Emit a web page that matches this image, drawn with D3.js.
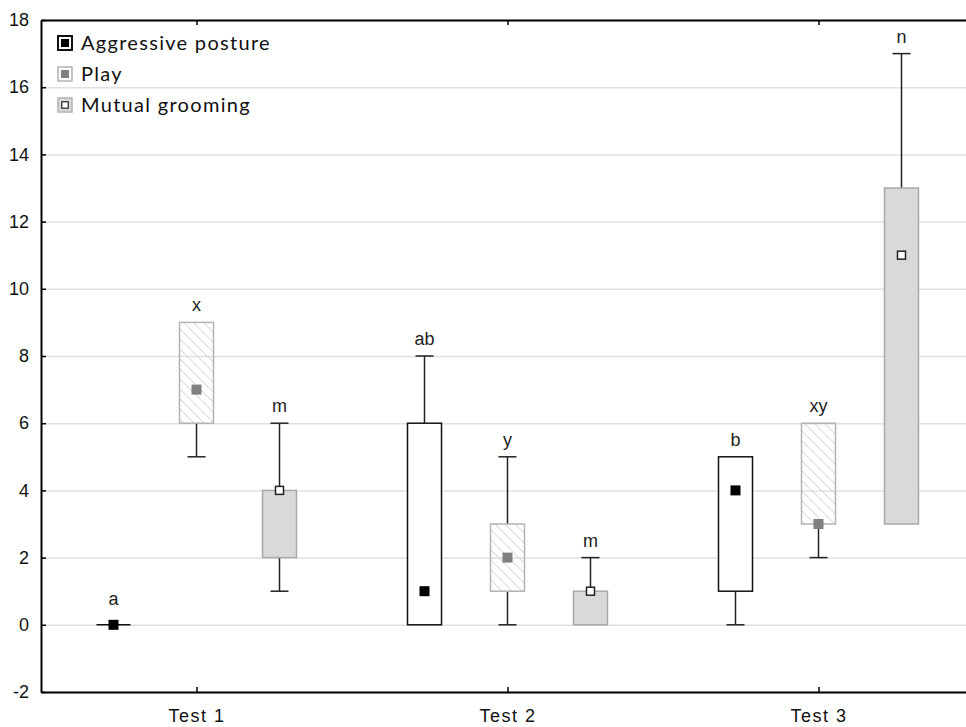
<!DOCTYPE html>
<html>
<head>
<meta charset="utf-8">
<script src="https://cdn.jsdelivr.net/npm/d3@7"></script>
<style>
  body { margin: 0; background: #fff; }
  svg { display: block; }
</style>
</head>
<body>
<div id="chart"></div>
<script>
// categories and series
const tests = ['Test 1', 'Test 2', 'Test 3'];
const seriesNames = ['Aggressive posture', 'Play', 'Mutual grooming'];
const yTicks = [-2, 0, 2, 4, 6, 8, 10, 12, 14, 16, 18];

// per test: [whisker min, box low, median, box high, whisker max]
const aggressiveStats = [[0, 0, 0, 0, 0], [0, 0, 1, 6, 8], [0, 1, 4, 5, 5]];
const playStats = [[5, 6, 7, 9, 9], [0, 1, 2, 3, 5], [2, 3, 3, 6, 6]];
const groomingStats = [[1, 2, 4, 4, 6], [0, 0, 1, 1, 2], [3, 3, 11, 13, 17]];

// significance letters
const aggressiveLetters = ['a', 'ab', 'b'];
const playLetters = ['x', 'y', 'xy'];
const groomingLetters = ['m', 'm', 'n'];

const width = 966, height = 727;
const margin = { top: 20, left: 41, bottom: 35, right: -8 };
const innerwidth = width - margin.left - margin.right;
const innerheight = height - margin.top - margin.bottom;

const svg = d3.select('#chart').append('svg')
  .attr('width', width).attr('height', height);

const defs = svg.append('defs');
defs.append('pattern')
  .attr('id', 'hatch')
  .attr('patternUnits', 'userSpaceOnUse')
  .attr('width', 10).attr('height', 10)
  .append('path')
  .attr('d', 'M0,0L10,10M-5,5L5,15M5,-5L15,5')
  .attr('stroke', '#cfcfcf')
  .attr('stroke-width', 1);

const g = svg.append('g').attr('transform', `translate(${margin.left},${margin.top})`);

const xScale = d3.scalePoint().domain(tests).range([0, innerwidth]).padding(0.5);
const yScale = d3.scaleLinear().domain([-2, 18]).range([innerheight, 0]);
const offset = d3.scalePoint().domain(seriesNames).range([-83, 83]);

// grid
g.append('g').attr('class', 'grid')
  .call(d3.axisLeft(yScale).tickValues(yTicks).tickSize(-innerwidth).tickFormat(''))
  .call(s => s.select('.domain').remove())
  .call(s => s.selectAll('line').attr('stroke', '#e0e0e0').attr('stroke-width', 1.5));

const styles = [
  { stroke: '#111', fill: '#fff', mark: '#000', markStroke: 'none', size: 10 },
  { stroke: '#b3b3b3', fill: 'url(#hatch)', mark: '#808080', markStroke: 'none', size: 10 },
  { stroke: '#a8a8a8', fill: '#d9d9d9', mark: '#fff', markStroke: '#222', size: 8 }
];
const allStats = [aggressiveStats, playStats, groomingStats];
const allLetters = [aggressiveLetters, playLetters, groomingLetters];

const boxW = 34, capW = 18;

seriesNames.forEach((name, si) => {
  const st = styles[si];
  const grp = g.append('g').attr('class', 'series');
  allStats[si].forEach((d, ti) => {
    const cx = xScale(tests[ti]) + offset(name);
    const [mn, lo, med, hi, mx] = d;
    // whiskers, only where they reach past the box
    if (mx > hi) drawWhisker(grp, cx, mx, hi);
    if (mn < lo) drawWhisker(grp, cx, mn, lo);
    // box
    if (hi > lo) {
      grp.append('rect')
        .attr('x', cx - boxW / 2).attr('width', boxW)
        .attr('y', yScale(hi)).attr('height', yScale(lo) - yScale(hi))
        .attr('fill', st.fill).attr('stroke', st.stroke).attr('stroke-width', 1.5);
    } else {
      grp.append('line')
        .attr('x1', cx - boxW / 2).attr('x2', cx + boxW / 2)
        .attr('y1', yScale(hi)).attr('y2', yScale(hi))
        .attr('stroke', '#111').attr('stroke-width', 1.5);
    }
    // median marker
    grp.append('rect')
      .attr('x', cx - st.size / 2).attr('y', yScale(med) - st.size / 2)
      .attr('width', st.size).attr('height', st.size)
      .attr('fill', st.mark).attr('stroke', st.markStroke).attr('stroke-width', 1.5);
    // letter
    grp.append('text')
      .attr('x', cx).attr('y', yScale(mx) - (mx === hi && hi === lo ? 20 : 11))
      .attr('text-anchor', 'middle')
      .attr('font-family', 'Liberation Sans, Arial, sans-serif')
      .attr('font-size', 18).attr('fill', '#222')
      .text(allLetters[si][ti]);
  });
});

function drawWhisker(grp, cx, v, end) {
  grp.append('line')
    .attr('x1', cx).attr('x2', cx)
    .attr('y1', yScale(v)).attr('y2', yScale(end))
    .attr('stroke', '#222').attr('stroke-width', 1.5);
  grp.append('line')
    .attr('x1', cx - capW / 2).attr('x2', cx + capW / 2)
    .attr('y1', yScale(v)).attr('y2', yScale(v))
    .attr('stroke', '#222').attr('stroke-width', 1.5);
}

// axes
const yAxis = d3.axisLeft(yScale).tickValues(yTicks).tickSizeInner(-5).tickSizeOuter(0)
  .tickPadding(12).tickFormat(d => String(d));
g.append('g').attr('class', 'y-axis').call(yAxis);

const xAxis = d3.axisBottom(xScale).tickSizeInner(-5).tickSizeOuter(0).tickPadding(17);
g.append('g').attr('class', 'x-axis')
  .attr('transform', `translate(0,${innerheight})`).call(xAxis);

const xTop = d3.axisTop(xScale).tickSizeInner(-5).tickSizeOuter(0).tickFormat('');
g.append('g').attr('class', 'x-top').call(xTop);

g.selectAll('.y-axis, .x-axis, .x-top')
  .call(s => s.selectAll('.domain').attr('stroke', '#000').attr('stroke-width', 2))
  .call(s => s.selectAll('.tick line').attr('stroke', '#000').attr('stroke-width', 1.5))
  .call(s => s.selectAll('text')
    .attr('font-family', 'Liberation Sans, Arial, sans-serif')
    .attr('font-size', 18).attr('fill', '#111'));
g.selectAll('.x-axis text').attr('letter-spacing', 1.5);

// legend
const legend = svg.append('g').attr('transform', 'translate(58,36)');
seriesNames.forEach((name, i) => {
  const st = styles[i];
  const row = legend.append('g').attr('transform', `translate(0,${i * 31})`);
  row.append('rect')
    .attr('x', 0).attr('y', 0).attr('width', 14).attr('height', 14)
    .attr('fill', i === 2 ? '#d9d9d9' : '#fff')
    .attr('stroke', i === 0 ? '#111' : '#b3b3b3').attr('stroke-width', i === 0 ? 2 : 1.5);
  row.append('rect')
    .attr('x', 7 - st.size * 0.4).attr('y', 7 - st.size * 0.4)
    .attr('width', st.size * 0.8).attr('height', st.size * 0.8)
    .attr('fill', st.mark).attr('stroke', st.markStroke).attr('stroke-width', 1.2);
  row.append('text')
    .attr('x', 23).attr('y', 14)
    .attr('font-family', 'Lato, sans-serif')
    .attr('font-size', 20).attr('letter-spacing', 1.3).attr('fill', '#111')
    .text(name);
});
</script>
</body>
</html>
